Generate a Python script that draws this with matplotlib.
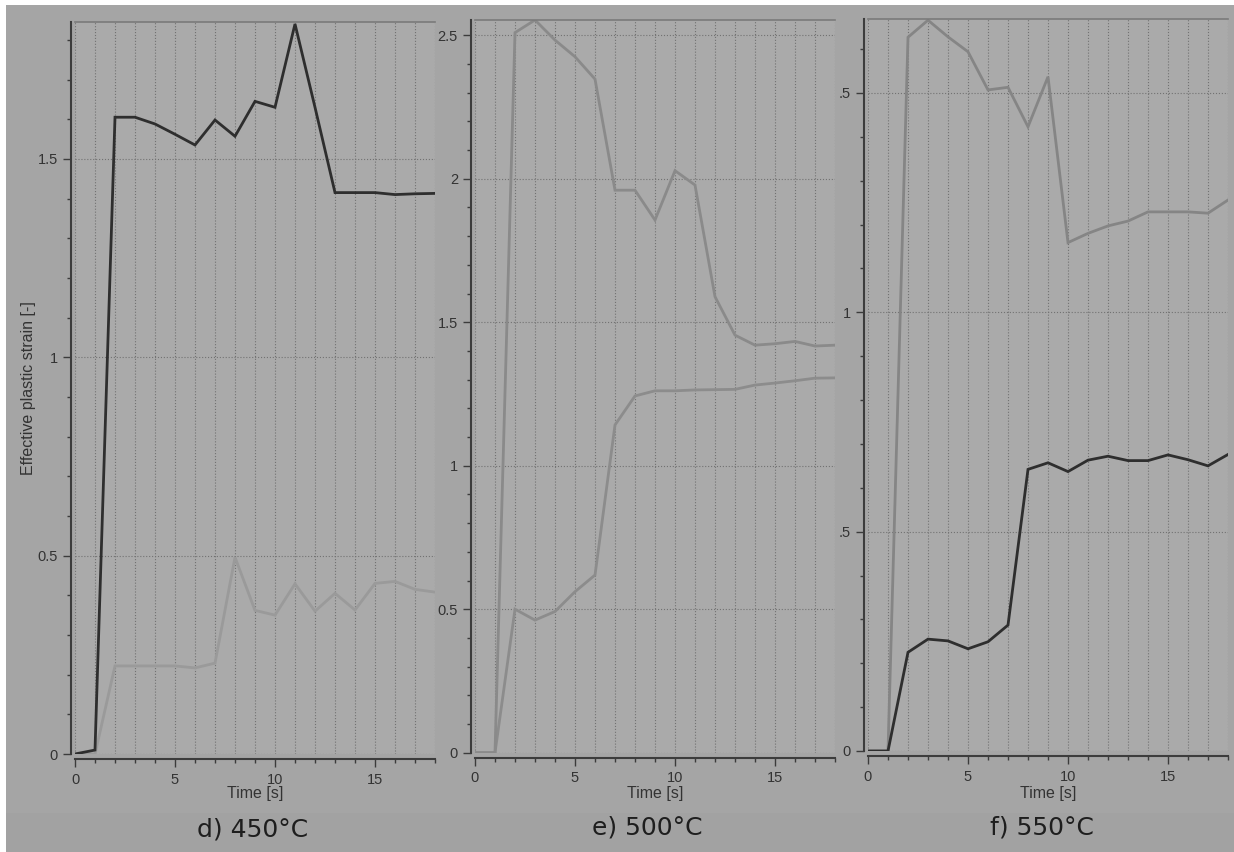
import numpy as np
import matplotlib
matplotlib.use('Agg')
import matplotlib.pyplot as plt
from matplotlib.patches import Rectangle
from matplotlib.ticker import MultipleLocator, FixedLocator, FixedFormatter

# time steps [s]
time = np.arange(0, 19)

# d) 450 C
strain_450_dark = [0, 0.01, 1.605, 1.605, 1.588, 1.562, 1.535, 1.598, 1.557, 1.645, 1.63,
                   1.84, 1.63, 1.415, 1.415, 1.415, 1.41, 1.412, 1.413]
strain_450_light = [0, 0, 0.222, 0.222, 0.222, 0.222, 0.217, 0.229, 0.496, 0.362, 0.35,
                    0.429, 0.36, 0.405, 0.363, 0.43, 0.435, 0.415, 0.408]

# e) 500 C
strain_500_upper = [0, 0, 2.509, 2.553, 2.483, 2.425, 2.347, 1.96, 1.96, 1.856, 2.028,
                    1.978, 1.589, 1.455, 1.42, 1.425, 1.433, 1.417, 1.42]
strain_500_lower = [0, 0, 0.5, 0.462, 0.492, 0.561, 0.619, 1.142, 1.243, 1.261, 1.261,
                    1.264, 1.265, 1.266, 1.281, 1.288, 1.296, 1.305, 1.306]

# f) 550 C
strain_550_upper = [0, 0, 1.627, 1.666, 1.628, 1.594, 1.507, 1.513, 1.423, 1.537, 1.159,
                    1.18, 1.197, 1.208, 1.229, 1.229, 1.229, 1.226, 1.256]
strain_550_lower = [0, 0, 0.225, 0.255, 0.251, 0.233, 0.249, 0.287, 0.642, 0.657, 0.637,
                    0.663, 0.672, 0.662, 0.662, 0.675, 0.664, 0.65, 0.676]

captions = ['d) 450°C', 'e) 500°C', 'f) 550°C']
y_ticks = [[0, 0.5, 1, 1.5], [0, 0.5, 1, 1.5, 2, 2.5], [0, 0.5, 1, 1.5]]
y_ticklabels = [['0', '0.5', '1', '1.5'], ['0', '0.5', '1', '1.5', '2', '2.5'],
                ['0', '.5', '1', '.5']]
y_tops = [1.845, 2.553, 1.668]

W, H = 1234, 852
BG = '#a5a5a5'
FACE = '#aaaaaa'
DARK = '#2e2e2e'
AXC = '#3c3c3c'

fig = plt.figure(figsize=(W / 100, H / 100), dpi=100, facecolor='white')
fig.add_artist(Rectangle((6 / W, 0), 1 - 6 / W, 1 - 5 / H, transform=fig.transFigure,
                         facecolor=BG, edgecolor='none', zorder=-10))
fig.add_artist(Rectangle((6 / W, 0), 1 - 6 / W, 39 / H, transform=fig.transFigure,
                         facecolor='#a2a2a2', edgecolor='none', zorder=-9))

# plot areas in pixels: left, right, top, bottom
boxes = [(75, 435, 22, 754), (475, 835, 20, 752.7), (868, 1228, 19.3, 751)]
series = [[(strain_450_light, '#9a9a9a'), (strain_450_dark, DARK)],
          [(strain_500_lower, '#8c8c8c'), (strain_500_upper, '#8a8a8a')],
          [(strain_550_upper, '#858585'), (strain_550_lower, DARK)]]
caption_pos = [(253, 830), (647, 828), (1042, 828)]

for i, (l, r, t, b) in enumerate(boxes):
    ax = fig.add_axes([l / W, 1 - b / H, (r - l) / W, (b - t) / H])
    ax.set_facecolor(FACE)
    for vals, col in series[i]:
        ax.plot(time, vals, color=col, lw=2.0, solid_joinstyle='miter')
    ax.set_xlim(0, 18)
    ax.set_ylim(0, y_tops[i])

    ax.xaxis.set_major_locator(MultipleLocator(5))
    ax.xaxis.set_minor_locator(MultipleLocator(1))
    ax.yaxis.set_major_locator(FixedLocator(y_ticks[i]))
    ax.yaxis.set_major_formatter(FixedFormatter(y_ticklabels[i]))
    ax.yaxis.set_minor_locator(MultipleLocator(0.1))

    ax.grid(True, which='major', axis='y', color='#727272', ls=':', lw=0.8)
    ax.grid(True, which='both', axis='x', color='#727272', ls=':', lw=0.8)
    ax.set_axisbelow(True)

    ax.spines['right'].set_visible(False)
    ax.spines['top'].set_color('#7a7a7a')
    ax.spines['top'].set_linewidth(1.2)
    ax.spines['left'].set_position(('outward', 3))
    ax.spines['bottom'].set_position(('outward', 3.6))
    for s in ['left', 'bottom']:
        ax.spines[s].set_color(AXC)
        ax.spines[s].set_linewidth(1.5)

    ax.tick_params(which='major', length=5.8, width=1, color=AXC, labelcolor='#333333',
                   labelsize=10.5)
    ax.tick_params(which='minor', length=2.9, width=1, color=AXC)
    ax.tick_params(axis='y', pad=3.5)
    ax.tick_params(axis='x', pad=4)
    for lab in ax.get_xticklabels() + ax.get_yticklabels():
        lab.set_family('Liberation Sans')

    ax.set_xlabel('Time [s]', family='Liberation Sans', fontsize=11.5, color='#333333',
                  va='top')
    ax.xaxis.set_label_coords(0.5, (b - 786) / (b - t))
    if i == 0:
        ax.set_ylabel('Effective plastic strain [-]', family='Liberation Sans',
                      fontsize=11.5, color='#333333')
        ax.yaxis.set_label_coords((36 - l) / (r - l), 0.5)

    cx, cy = caption_pos[i]
    fig.text(cx / W, 1 - cy / H, captions[i], family='DejaVu Sans', fontsize=18,
             color='#1e1e1e', ha='center', va='center')

plt.savefig('out.png', dpi=100, facecolor='white')
